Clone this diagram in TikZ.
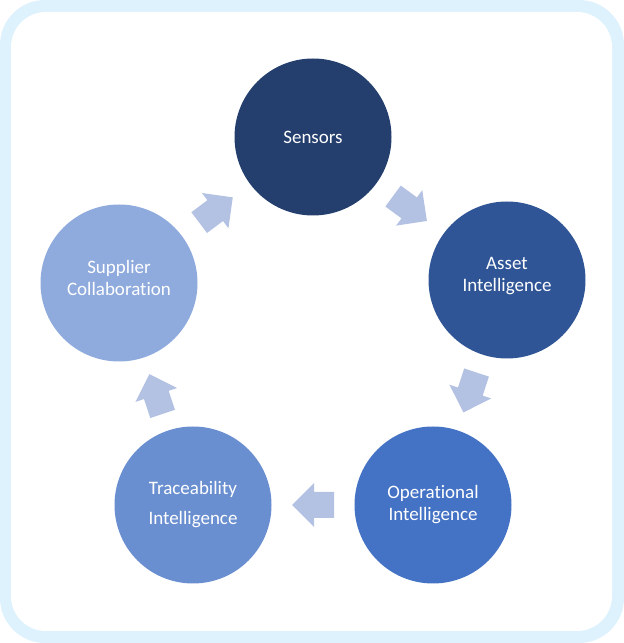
\documentclass[tikz,border=0pt]{standalone}
\usepackage{fontspec}
\setmainfont{Carlito}[Ligatures={NoCommon,NoContextual}]
\usetikzlibrary{calc}
\definecolor{borderc}{HTML}{DDF2FD}
\definecolor{cSensors}{HTML}{243F6E}
\definecolor{cAsset}{HTML}{2F5597}
\definecolor{cOper}{HTML}{4472C4}
\definecolor{cTrace}{HTML}{6A8FD0}
\definecolor{cSupp}{HTML}{8FAADC}
\definecolor{arrowc}{HTML}{B3C1E3}
\newcommand\blockarrow[2]{%
  \fill[arrowc] let \p1=(#1), \p2=(#2), \n1={atan2(\y2-\y1,\x2-\x1)} in
    [shift={($(#1)!0.5!(#2)$)}, rotate=\n1]
    (21,0) -- (-1,22) -- (-1,13) -- (-21,13) -- (-21,-13) -- (-1,-13) -- (-1,-22) -- cycle;}
\begin{document}
\begin{tikzpicture}[x=1pt,y=1pt,
  circ/.style={circle, minimum size=157pt, inner sep=0pt},
  lbl/.style={text=white, align=center, inner sep=0pt,
    font=\fontsize{19}{22}\selectfont}]
\useasboundingbox (0,0) rectangle (624,643);
\fill[borderc, rounded corners=45pt] (0,0) rectangle (624,643);
\fill[white, rounded corners=35pt] (11,12) rectangle (612,631);

\node[circ, fill=cSensors] (sens) at (313,506) {};
\node[circ, fill=cAsset] (asset) at (507,363) {};
\node[circ, fill=cOper] (oper) at (433,138) {};
\node[circ, fill=cTrace] (trace) at (193,138) {};
\node[circ, fill=cSupp] (supp) at (119,360) {};

\node[lbl] (tsens) at (sens) {Sensors};
\node[lbl] (tasset) at ($(asset)+(0,4)$) {Asset\\Intelligence};
\node[lbl] (toper) at (oper) {Operational\\Intelligence};
\node[lbl] (ttrace) at (trace) {Traceability\\[8pt]Intelligence};
\node[lbl] (tsupp) at ($(supp)+(0,5)$) {Supplier\\Collaboration};

\blockarrow{sens}{asset}
\blockarrow{asset}{oper}
\blockarrow{oper}{trace}
\blockarrow{trace}{supp}
\blockarrow{supp}{sens}
\end{tikzpicture}
\end{document}
